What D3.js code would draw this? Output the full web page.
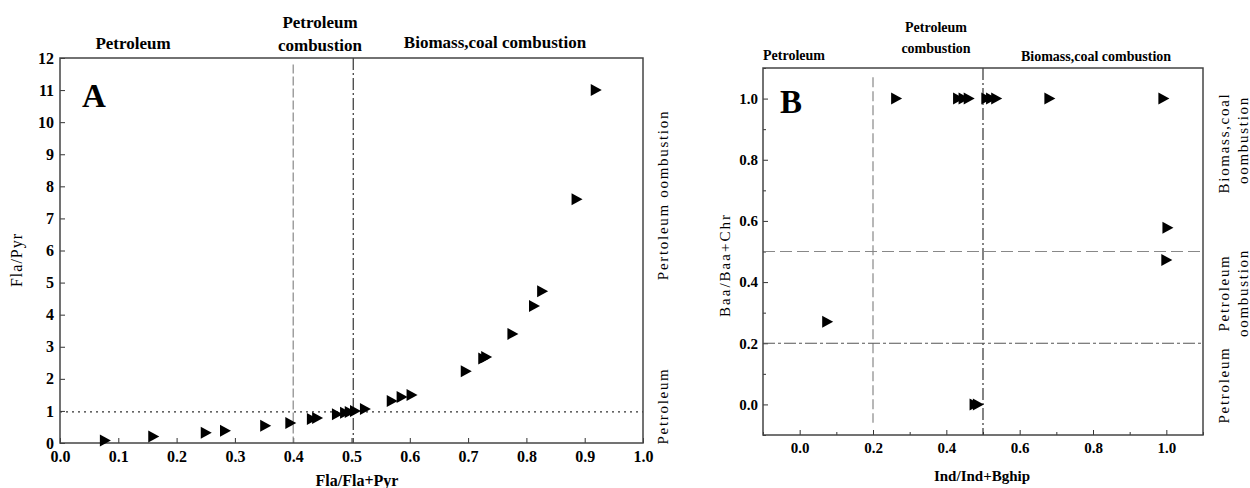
<!DOCTYPE html>
<html>
<head>
<meta charset="utf-8">
<script src="https://cdn.jsdelivr.net/npm/d3@7"></script>
<style>
  body { margin: 0; background: #fff; }
  svg { display: block; }
  svg text { font-family: "Liberation Serif", "Times New Roman", serif; }
  .tick text { font-weight: bold; fill: #000; }
  .domain { display: none; }
  .tick line { stroke: #333; }
</style>
</head>
<body>
<div id="chart"></div>
<script>
// panel A : Fla/Fla+Pyr vs Fla/Pyr
var aX = [0.077, 0.16, 0.25, 0.283, 0.352, 0.395, 0.432, 0.441, 0.475, 0.489, 0.497, 0.506, 0.523,
          0.569, 0.586, 0.603, 0.696, 0.726, 0.731, 0.776, 0.813, 0.827, 0.886, 0.919];
var aY = [0.08, 0.2, 0.32, 0.38, 0.54, 0.62, 0.75, 0.78, 0.9, 0.94, 0.97, 1.0, 1.06,
          1.31, 1.43, 1.5, 2.24, 2.63, 2.68, 3.4, 4.27, 4.73, 7.6, 11.0];
var aXTicks = [0, 0.1, 0.2, 0.3, 0.4, 0.5, 0.6, 0.7, 0.8, 0.9, 1.0];
var aYTicks = [0, 1, 2, 3, 4, 5, 6, 7, 8, 9, 10, 11, 12];

// panel B : Ind/Ind+Bghip vs Baa/Baa+Chr
var bX = [0.263, 0.432, 0.447, 0.461, 0.509, 0.522, 0.536, 0.681, 0.992, 1.003, 1.0, 0.075, 0.477, 0.486];
var bY = [1, 1, 1, 1, 1, 1, 1, 1, 1, 0.578, 0.472, 0.27, 0.0, 0.0];
var bTicks = [0, 0.2, 0.4, 0.6, 0.8, 1.0];
var bMinor = [-0.1, 0.1, 0.3, 0.5, 0.7, 0.9, 1.1];

var width = 1250, height = 488;

var svg = d3.select("#chart").append("svg")
    .attr("width", width)
    .attr("height", height);

// right pointing triangle marker
var tri = "M-5,-6L6,0L-5,6Z";

//---------------- panel A
var ax = d3.scaleLinear().domain([0, 1]).range([60, 643]);
var ay = d3.scaleLinear().domain([0, 12]).range([443, 58]);

var gA = svg.append("g");

gA.append("g")
    .attr("transform", "translate(0,443)")
    .call(d3.axisBottom(ax).tickValues(aXTicks).tickSize(-5).tickPadding(8).tickFormat(d3.format(".1f")))
    .selectAll("text").style("font-size", "16px");

gA.append("g")
    .attr("transform", "translate(60,0)")
    .call(d3.axisLeft(ay).tickValues(aYTicks).tickSize(-5).tickPadding(6))
    .selectAll("text").style("font-size", "16px");

// reference lines
gA.append("line")
    .attr("x1", ax(0.4)).attr("x2", ax(0.4))
    .attr("y1", ay(11.8)).attr("y2", ay(0))
    .attr("stroke", "#888").attr("stroke-width", 1.2).attr("stroke-dasharray", "9,3");
gA.append("line")
    .attr("x1", ax(0.503)).attr("x2", ax(0.503))
    .attr("y1", ay(12)).attr("y2", ay(0))
    .attr("stroke", "#333").attr("stroke-width", 1.2).attr("stroke-dasharray", "12,3,2,3");
gA.append("line")
    .attr("x1", ax(0)).attr("x2", ax(1))
    .attr("y1", ay(0.97)).attr("y2", ay(0.97))
    .attr("stroke", "#333").attr("stroke-width", 1.2).attr("stroke-dasharray", "2,4");

gA.append("rect")
    .attr("x", ax(0)).attr("y", ay(12))
    .attr("width", ax(1) - ax(0)).attr("height", ay(0) - ay(12))
    .attr("fill", "none").attr("stroke", "#444").attr("stroke-width", 1.5);

gA.selectAll("path.pt")
    .data(aX)
    .enter().append("path")
    .attr("class", "pt")
    .attr("d", tri)
    .attr("fill", "#000")
    .attr("transform", function(d, i) { return "translate(" + ax(d) + "," + ay(aY[i]) + ")"; });

gA.append("text").attr("x", 94).attr("y", 107).attr("text-anchor", "middle")
    .style("font-size", "33px").style("font-weight", "bold").text("A");

var topA = gA.append("g").style("font-size", "17px").style("font-weight", "bold").attr("text-anchor", "middle");
topA.append("text").attr("x", 133).attr("y", 49).text("Petroleum");
topA.append("text").attr("x", 320).attr("y", 28).text("Petroleum");
topA.append("text").attr("x", 320).attr("y", 51).text("combustion");
topA.append("text").attr("x", 495).attr("y", 48).text("Biomass,coal combustion");

gA.append("text").attr("x", 357).attr("y", 486).attr("text-anchor", "middle")
    .style("font-size", "16px").style("font-weight", "bold").text("Fla/Fla+Pyr");

gA.append("text")
    .attr("transform", "translate(16,260) rotate(-90)")
    .attr("text-anchor", "middle").attr("dy", "0.35em")
    .style("font-size", "16px").style("letter-spacing", "1px").text("Fla/Pyr");

var rightA = gA.append("g").style("font-size", "15px").style("letter-spacing", "1.7px").attr("text-anchor", "middle");
rightA.append("text").attr("transform", "translate(663,195) rotate(-90)").attr("dy", "0.35em").text("Pertoleum oombustion");
rightA.append("text").attr("transform", "translate(663,406) rotate(-90)").attr("dy", "0.35em").text("Petroleum");

//---------------- panel B
var bx = d3.scaleLinear().domain([-0.1, 1.1]).range([763, 1203]);
var by = d3.scaleLinear().domain([-0.1, 1.1]).range([435, 68]);

var gB = svg.append("g");

gB.append("g")
    .attr("transform", "translate(0,435)")
    .call(d3.axisBottom(bx).tickValues(bTicks).tickSize(-5).tickPadding(7).tickFormat(d3.format(".1f")))
    .selectAll("text").style("font-size", "15px");
gB.append("g")
    .attr("transform", "translate(0,435)")
    .call(d3.axisBottom(bx).tickValues(bMinor).tickSize(-3).tickFormat(""));

gB.append("g")
    .attr("transform", "translate(763,0)")
    .call(d3.axisLeft(by).tickValues(bTicks).tickSize(-5).tickPadding(5).tickFormat(d3.format(".1f")))
    .selectAll("text").style("font-size", "15px");
gB.append("g")
    .attr("transform", "translate(763,0)")
    .call(d3.axisLeft(by).tickValues(bMinor).tickSize(-3).tickFormat(""));

gB.append("line")
    .attr("x1", bx(0.2)).attr("x2", bx(0.2))
    .attr("y1", by(1.07)).attr("y2", by(-0.06))
    .attr("stroke", "#888").attr("stroke-width", 1.2).attr("stroke-dasharray", "10,4");
gB.append("line")
    .attr("x1", bx(0.5)).attr("x2", bx(0.5))
    .attr("y1", by(1.1)).attr("y2", by(-0.1))
    .attr("stroke", "#333").attr("stroke-width", 1.2).attr("stroke-dasharray", "12,3,2,3");
gB.append("line")
    .attr("x1", bx(-0.1)).attr("x2", bx(1.1))
    .attr("y1", by(0.5)).attr("y2", by(0.5))
    .attr("stroke", "#888").attr("stroke-width", 1.2).attr("stroke-dasharray", "12,5");
gB.append("line")
    .attr("x1", bx(-0.1)).attr("x2", bx(1.1))
    .attr("y1", by(0.2)).attr("y2", by(0.2))
    .attr("stroke", "#555").attr("stroke-width", 1.2).attr("stroke-dasharray", "12,3,3,3");

gB.append("rect")
    .attr("x", bx(-0.1)).attr("y", by(1.1))
    .attr("width", bx(1.1) - bx(-0.1)).attr("height", by(-0.1) - by(1.1))
    .attr("fill", "none").attr("stroke", "#444").attr("stroke-width", 1.5);

gB.selectAll("path.pt")
    .data(bX)
    .enter().append("path")
    .attr("class", "pt")
    .attr("d", tri)
    .attr("fill", "#000")
    .attr("transform", function(d, i) { return "translate(" + bx(d) + "," + by(bY[i]) + ")"; });

gB.append("text").attr("x", 791).attr("y", 113).attr("text-anchor", "middle")
    .style("font-size", "33px").style("font-weight", "bold").text("B");

var topB = gB.append("g").style("font-size", "14px").style("font-weight", "bold").attr("text-anchor", "middle");
topB.append("text").attr("x", 794).attr("y", 60).text("Petroleum");
topB.append("text").attr("x", 936).attr("y", 32).text("Petroleum");
topB.append("text").attr("x", 936).attr("y", 53).text("combustion");
topB.append("text").attr("x", 1096).attr("y", 61).text("Biomass,coal combustion");

gB.append("text").attr("x", 982).attr("y", 481).attr("text-anchor", "middle")
    .style("font-size", "15px").style("font-weight", "bold").text("Ind/Ind+Bghip");

gB.append("text")
    .attr("transform", "translate(725,265) rotate(-90)")
    .attr("text-anchor", "middle").attr("dy", "0.35em")
    .style("font-size", "15px").style("letter-spacing", "2px").text("Baa/Baa+Chr");

var rightB = gB.append("g").style("font-size", "15px").style("letter-spacing", "1.7px").attr("text-anchor", "middle");
rightB.append("text").attr("transform", "translate(1224,143) rotate(-90)").attr("dy", "0.35em").text("Biomass,coal");
rightB.append("text").attr("transform", "translate(1243,140) rotate(-90)").attr("dy", "0.35em").text("oombustion");
rightB.append("text").attr("transform", "translate(1224,293) rotate(-90)").attr("dy", "0.35em").text("Petroleum");
rightB.append("text").attr("transform", "translate(1243,293) rotate(-90)").attr("dy", "0.35em").text("oombustion");
rightB.append("text").attr("transform", "translate(1224,385) rotate(-90)").attr("dy", "0.35em").text("Petroleum");
</script>
</body>
</html>
